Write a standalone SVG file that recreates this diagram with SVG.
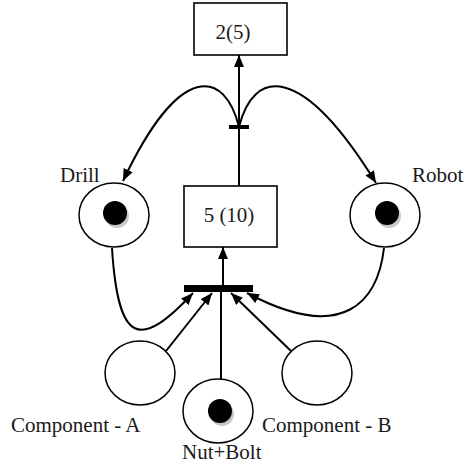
<svg xmlns="http://www.w3.org/2000/svg" width="471" height="466" viewBox="0 0 471 466">
  <style>
    .lbl { font-family: "Liberation Serif", "Times New Roman", serif; font-size: 21px; fill: #1a1a1a; }
    .place { fill: #fff; stroke: #000; stroke-width: 1.5; }
    .box { fill: #fff; stroke: #000; stroke-width: 1.6; }
    .arc { fill: none; stroke: #000; stroke-width: 2; }
    .bar { fill: #000; }
  </style>
  <defs>
    <marker id="head" viewBox="0 0 12 10" refX="12" refY="5" markerWidth="12" markerHeight="10" markerUnits="userSpaceOnUse" orient="auto">
      <path d="M0,0 L12,5 L0,10 Z" fill="#000"/>
    </marker>
    <g id="token">
      <circle cx="2" cy="3" r="12" fill="#c8c8c8"/>
      <circle cx="0" cy="0" r="12" fill="#000"/>
    </g>
  </defs>

  <!-- connectors -->
  <g id="connectors">
    <line class="arc" x1="239" y1="186" x2="239" y2="55" marker-end="url(#head)"/>
    <path class="arc" d="M239,127 C225,70 180,60 123,181" marker-end="url(#head)"/>
    <path class="arc" d="M239,127 C253,70 300,60 376,183" marker-end="url(#head)"/>
    <line class="arc" x1="223" y1="288" x2="223" y2="247" marker-end="url(#head)"/>
    <path class="arc" d="M112,248 C118,345 140,350 193,293" marker-end="url(#head)"/>
    <path class="arc" d="M384,248 C378,300 345,345 247,293" marker-end="url(#head)"/>
    <line class="arc" x1="166" y1="351" x2="212" y2="293" marker-end="url(#head)"/>
    <line class="arc" x1="291" y1="351" x2="231" y2="293" marker-end="url(#head)"/>
    <line class="arc" x1="221" y1="379" x2="221" y2="290"/>
  </g>

  <!-- transitions -->
  <g id="t-top"><rect class="bar" x="229" y="125" width="20" height="4"/></g>
  <g id="t-assembly"><rect class="bar" x="184" y="285" width="69" height="7"/></g>

  <!-- resources -->
  <g id="res-top">
    <rect class="box" x="194" y="3" width="93" height="52"/>
    <text class="lbl" x="233" y="39" text-anchor="middle">2(5)</text>
  </g>
  <g id="res-mid">
    <rect class="box" x="184" y="186" width="93" height="61"/>
    <text class="lbl" x="229" y="222" text-anchor="middle">5 (10)</text>
  </g>

  <!-- places -->
  <g id="drill">
    <ellipse class="place" cx="114" cy="215" rx="35" ry="32"/>
    <use href="#token" x="115" y="213"/>
    <text class="lbl" x="60" y="182">Drill</text>
  </g>
  <g id="robot">
    <ellipse class="place" cx="385" cy="215" rx="35" ry="32"/>
    <use href="#token" x="387" y="213"/>
    <text class="lbl" x="412" y="182">Robot</text>
  </g>
  <g id="component-a">
    <ellipse class="place" cx="140" cy="373" rx="35" ry="32"/>
    <text class="lbl" x="11" y="432">Component - A</text>
  </g>
  <g id="component-b">
    <ellipse class="place" cx="317" cy="373" rx="35" ry="32"/>
    <text class="lbl" x="262" y="432">Component - B</text>
  </g>
  <g id="nut-bolt">
    <ellipse class="place" cx="218" cy="411" rx="35" ry="32"/>
    <use href="#token" x="220" y="411"/>
    <text class="lbl" x="182" y="459">Nut+Bolt</text>
  </g>
</svg>
